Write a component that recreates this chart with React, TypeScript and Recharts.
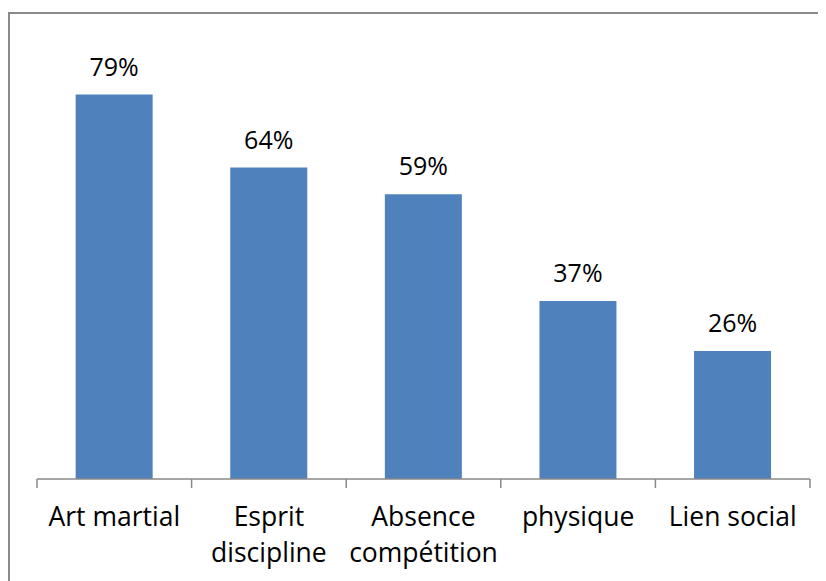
import React from 'react';
import { BarChart, Bar, XAxis, YAxis, LabelList } from 'recharts';

// Reasons given (% of respondents), labels shown rounded
const categories = ['Art martial', 'Esprit discipline', 'Absence compétition', 'physique', 'Lien social'];
const tickLines = [['Art martial'], ['Esprit', 'discipline'], ['Absence', 'compétition'], ['physique'], ['Lien social']];
const values = [79, 64, 58.5, 36.6, 26.3];

const data = categories.map((name, i) => ({ name, value: values[i] }));

const FONT = '"Open Sans", "Noto Sans", sans-serif';
const GRAY = '#898989';
const W = 818;
const H = 573;
const MARGIN = { top: 33, right: 16, bottom: 0, left: 29 };
const BAND = (W - MARGIN.left - MARGIN.right) / categories.length;

// label at the band centre, tick marks at the band edges (Excel style)
const CategoryTick = (props: any) => {
  const { x, y, index } = props;
  const lines = tickLines[index] || [props.payload.value];
  const left = x - BAND / 2;
  const right = x + BAND / 2;
  return (
    <g>
      <line x1={left} x2={left} y1={y} y2={y + 9} stroke={GRAY} strokeWidth={1.5} />
      {index === categories.length - 1 && (
        <line x1={right} x2={right} y1={y} y2={y + 9} stroke={GRAY} strokeWidth={1.5} />
      )}
      <text x={x} y={y} textAnchor="middle" fontFamily={FONT} fontSize={26.5} fill="#000">
        {lines.map((l: string, i: number) => (
          <tspan key={i} x={x} dy={i === 0 ? 47 : 36}>
            {l}
          </tspan>
        ))}
      </text>
    </g>
  );
};

const App: React.FC = () => {
  return (
    <div style={{ position: 'relative', width: W, height: H, overflow: 'hidden' }}>
      <div
        style={{
          position: 'absolute',
          left: 0,
          top: 4,
          width: 1000,
          height: 1000,
          borderLeft: `2px solid ${GRAY}`,
          borderTop: `2px solid ${GRAY}`,
        }}
      />
      <div style={{ position: 'absolute', left: 0, top: 0 }}>
        <BarChart width={W} height={H} data={data} margin={MARGIN} barCategoryGap="25%">
          <XAxis
            dataKey="name"
            height={102}
            axisLine={{ stroke: GRAY, strokeWidth: 1.5 }}
            tickLine={false}
            tickSize={0}
            tickMargin={0}
            interval={0}
            tick={<CategoryTick />}
          />
          <YAxis hide domain={[0, 90]} />
          <Bar dataKey="value" fill="#4F81BD" isAnimationActive={false}>
            <LabelList
              dataKey="value"
              position="top"
              offset={19}
              formatter={(v: any) => `${Math.round(v)}%`}
              style={{ fontFamily: FONT, fontSize: 25, fill: '#000' }}
            />
          </Bar>
        </BarChart>
      </div>
    </div>
  );
};

export default App;
